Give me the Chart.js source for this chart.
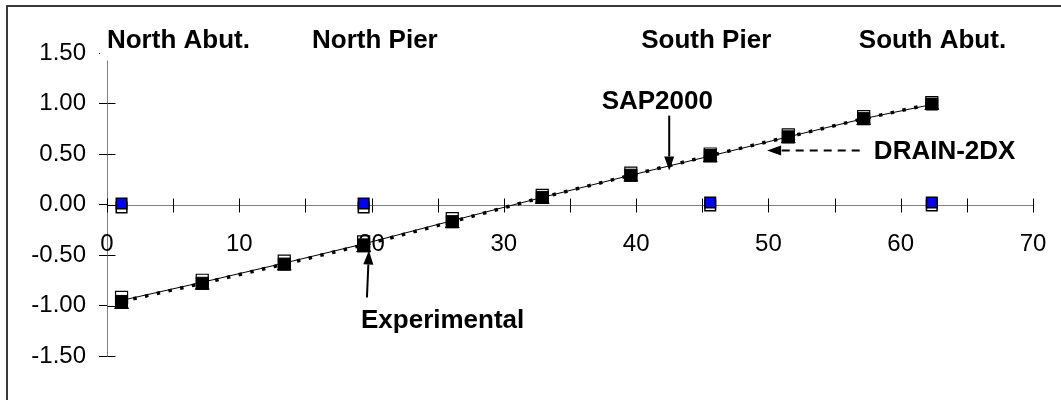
<!DOCTYPE html>
<html>
<head>
<meta charset="utf-8">
<script src="https://cdn.jsdelivr.net/npm/chart.js@4/dist/chart.umd.min.js"></script>
<style>
  html, body { margin: 0; padding: 0; background: #fff; }
  #wrap { width: 1061px; height: 400px; position: relative; }
</style>
</head>
<body>
<div id="wrap"><canvas id="c" width="1061" height="400"></canvas></div>
<script>
// ---- data ----
const stationX = [1.1, 7.2, 13.4, 19.4, 26.1, 32.9, 39.6, 45.6, 51.5, 57.2, 62.35];
const experimentalY = [-0.96, -0.78, -0.59, -0.40, -0.17, 0.07, 0.29, 0.485, 0.67, 0.85, 0.995];
const experimentalOpenY = [-0.92, -0.75, -0.56, -0.37, -0.14, 0.09, 0.31, 0.50, 0.69, 0.87, 1.01];
const sapMarkerY = [-0.99, -0.80, -0.61, -0.43, -0.19, 0.05, 0.27, 0.46, 0.65, 0.83, 0.98];
const sapLineY = [-0.95, -0.77, -0.58, -0.39, -0.16, 0.07, 0.29, 0.48, 0.67, 0.85, 0.99];
const drainLineY = [-0.96, -0.78, -0.59, -0.40, -0.17, 0.07, 0.29, 0.485, 0.67, 0.85, 0.995];
const supportX = [1.1, 19.4, 45.6, 62.35];
const supportY = [0.01, 0.01, 0.02, 0.02];
const supportUnderY = [-0.03, -0.03, -0.01, -0.01];
const xTicks = [0, 10, 20, 30, 40, 50, 60, 70];
const xMinorTicks = [0, 5, 10, 15, 20, 25, 30, 35, 40, 45, 50, 55, 60, 65, 70];
const yTicks = [-1.5, -1.0, -0.5, 0.0, 0.5, 1.0, 1.5];
const topLabels = ['North Abut.', 'North Pier', 'South Pier', 'South Abut.'];
const seriesLabels = ['SAP2000', 'DRAIN-2DX', 'Experimental'];

const pts = (xs, ys) => xs.map((x, i) => ({ x: x, y: ys[i] }));
const FONT = '"Liberation Sans", Arial, sans-serif';

// annotation placement (in data units)
const annot = {
  top: [
    { text: topLabels[0], x: 5.4, y: 1.545 },
    { text: topLabels[1], x: 20.25, y: 1.545 },
    { text: topLabels[2], x: 45.3, y: 1.545 },
    { text: topLabels[3], x: 62.4, y: 1.545 }
  ],
  series: [
    { text: seriesLabels[0], x: 41.6, y: 0.95, align: 'center' },
    { text: seriesLabels[1], x: 57.97, y: 0.455, align: 'left' },
    { text: seriesLabels[2], x: 19.2, y: -1.218, align: 'left' }
  ],
  arrows: [
    { x1: 42.5, y1: 0.88, x2: 42.5, y2: 0.337, dash: [] },
    { x1: 56.9, y1: 0.535, x2: 49.9, y2: 0.535, dash: [8, 6] },
    { x1: 19.65, y1: -0.92, x2: 19.8, y2: -0.455, dash: [] }
  ]
};

const customPlugin = {
  id: 'custom',
  beforeDatasetsDraw(chart) {
    const ctx = chart.ctx, xs = chart.scales.x, ys = chart.scales.y;
    const y0 = Math.round(ys.getPixelForValue(0)) + 0.5;
    ctx.save();
    // x axis line at y=0
    ctx.strokeStyle = '#808080';
    ctx.lineWidth = 1;
    ctx.beginPath();
    ctx.moveTo(xs.getPixelForValue(0), y0);
    ctx.lineTo(xs.getPixelForValue(70), y0);
    ctx.stroke();
    // x ticks crossing axis
    ctx.strokeStyle = '#000';
    xMinorTicks.forEach(v => {
      const px = Math.round(xs.getPixelForValue(v)) + 0.5;
      ctx.beginPath();
      ctx.moveTo(px, y0 - 7);
      ctx.lineTo(px, y0 + 7);
      ctx.stroke();
    });
    // inner halves of y ticks
    const left = Math.round(chart.chartArea.left) + 0.5;
    yTicks.forEach(v => {
      const py = Math.round(ys.getPixelForValue(v)) + 0.5;
      ctx.beginPath();
      ctx.moveTo(left, py);
      ctx.lineTo(left + 8, py);
      ctx.stroke();
    });
    ctx.restore();
  },
  afterDraw(chart) {
    const ctx = chart.ctx, xs = chart.scales.x, ys = chart.scales.y;
    ctx.save();
    // x tick labels
    ctx.fillStyle = '#000';
    ctx.font = '24px ' + FONT;
    ctx.textAlign = 'center';
    ctx.textBaseline = 'middle';
    const y0 = ys.getPixelForValue(0);
    xTicks.forEach(v => {
      ctx.fillText(String(v), xs.getPixelForValue(v), y0 + 40);
    });
    // top labels with white background
    ctx.font = 'bold 26px ' + FONT;
    ctx.textBaseline = 'alphabetic';
    annot.top.forEach(a => {
      const w = ctx.measureText(a.text).width;
      const cx = xs.getPixelForValue(a.x), by = ys.getPixelForValue(a.y);
      ctx.fillStyle = '#fff';
      ctx.fillRect(cx - w / 2 - 7, by - 26, w + 14, 38);
      ctx.fillStyle = '#000';
      ctx.textAlign = 'center';
      ctx.fillText(a.text, cx, by);
    });
    annot.series.forEach(a => {
      ctx.textAlign = a.align;
      ctx.fillText(a.text, xs.getPixelForValue(a.x), ys.getPixelForValue(a.y));
    });
    // arrows
    annot.arrows.forEach(a => {
      const x1 = xs.getPixelForValue(a.x1), y1 = ys.getPixelForValue(a.y1);
      const x2 = xs.getPixelForValue(a.x2), y2 = ys.getPixelForValue(a.y2);
      const ang = Math.atan2(y2 - y1, x2 - x1);
      const hl = 14, hw = 5;
      const bx = x2 - hl * Math.cos(ang), by = y2 - hl * Math.sin(ang);
      ctx.strokeStyle = '#000';
      ctx.lineWidth = 2;
      ctx.setLineDash(a.dash);
      ctx.beginPath();
      ctx.moveTo(x1, y1);
      ctx.lineTo(bx, by);
      ctx.stroke();
      ctx.setLineDash([]);
      ctx.fillStyle = '#000';
      ctx.beginPath();
      ctx.moveTo(x2, y2);
      ctx.lineTo(bx + hw * Math.sin(ang), by - hw * Math.cos(ang));
      ctx.lineTo(bx - hw * Math.sin(ang), by + hw * Math.cos(ang));
      ctx.closePath();
      ctx.fill();
    });
    // outer frame (left + top edges)
    ctx.strokeStyle = '#3a3a3a';
    ctx.lineWidth = 2;
    ctx.beginPath();
    ctx.moveTo(7, 400);
    ctx.lineTo(7, 6);
    ctx.lineTo(1061, 6);
    ctx.stroke();
    ctx.restore();
  }
};

new Chart(document.getElementById('c'), {
  type: 'scatter',
  data: {
    datasets: [
      { label: 'Supports', data: pts(supportX, supportY), pointStyle: 'rect', pointRadius: 7.5,
        backgroundColor: '#0000ff', borderColor: '#000', borderWidth: 1.5, showLine: false },
      { label: 'Supports (2)', data: pts(supportX, supportUnderY), pointStyle: 'rect', pointRadius: 7.5,
        backgroundColor: '#fff', borderColor: '#000', borderWidth: 1.5, showLine: false },
      { label: 'Experimental', data: pts(stationX, experimentalY), pointStyle: 'rect', pointRadius: 8.5,
        backgroundColor: '#000', borderColor: '#000', borderWidth: 1, showLine: false },
      { label: 'Experimental (2)', data: pts(stationX, experimentalOpenY), pointStyle: 'rect', pointRadius: 8.5,
        backgroundColor: '#fff', borderColor: '#000', borderWidth: 1.2, showLine: false },
      { label: 'SAP2000 markers', data: pts(stationX, sapMarkerY), pointStyle: 'triangle', pointRadius: 8,
        backgroundColor: '#000', borderColor: '#000', borderWidth: 1, showLine: false },
      { label: 'DRAIN-2DX', data: pts(stationX, drainLineY), showLine: true, pointRadius: 0,
        borderColor: '#000', borderWidth: 3.5, borderDash: [3.5, 8.5], fill: false, tension: 0 },
      { label: 'SAP2000', data: pts(stationX, sapLineY), showLine: true, pointRadius: 0,
        borderColor: '#000', borderWidth: 1, fill: false, tension: 0 }
    ]
  },
  options: {
    responsive: false,
    devicePixelRatio: 1,
    animation: false,
    layout: { padding: { left: 0, right: 28, top: 53, bottom: 44 } },
    plugins: { legend: { display: false }, tooltip: { enabled: false } },
    scales: {
      x: { type: 'linear', min: 0, max: 70, display: false },
      y: {
        type: 'linear', min: -1.5, max: 1.5, position: 'left',
        afterBuildTicks: s => { s.ticks = yTicks.map(v => ({ value: v })); },
        afterFit: s => { s.width = 107; },
        ticks: { callback: v => Number(v).toFixed(2), color: '#000', padding: 13,
                 font: { family: FONT, size: 24 } },
        grid: { display: true, drawOnChartArea: false, drawTicks: true, tickLength: 8,
                color: '#000', lineWidth: 1 },
        border: { display: true, color: '#808080', width: 1 }
      }
    }
  },
  plugins: [customPlugin]
});
</script>
</body>
</html>
